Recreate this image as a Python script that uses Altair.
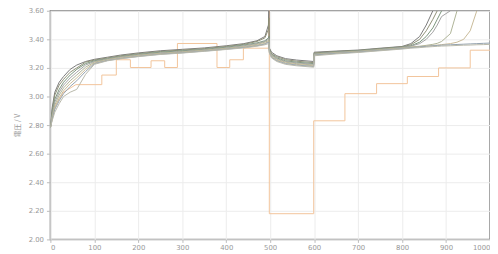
import altair as alt
import pandas as pd

X_GRID = [0, 4, 10, 20, 30, 45, 60, 80, 100, 130, 160, 200, 250, 300, 350, 400, 440, 470, 488, 496, 497,
          498, 503, 515, 535, 560, 599,
          600, 650, 700, 750, 800,
          820, 840, 855, 870, 880, 890, 910, 925, 940, 955, 970, 985, 1000]

N = None
S1 = [2.78, 2.92, 3.03, 3.10, 3.14, 3.19, 3.22, 3.245, 3.26, 3.275, 3.29, 3.305, 3.32, 3.33, 3.34, 3.355, 3.37, 3.39, 3.42, 3.50, 3.60,
      3.34, 3.31, 3.285, 3.265, 3.255, 3.245,
      3.31, 3.318, 3.325, 3.338, 3.35,
      3.37, 3.42, 3.50, 3.60, N, N, N, N, N, N, N, N, N]
S2 = [2.78, 2.90, 3.01, 3.08, 3.12, 3.17, 3.20, 3.24, 3.255, 3.27, 3.285, 3.30, 3.315, 3.325, 3.335, 3.35, 3.365, 3.385, 3.41, 3.47, 3.55,
      3.335, 3.30, 3.278, 3.258, 3.247, 3.237,
      3.305, 3.315, 3.322, 3.335, 3.348,
      3.362, 3.40, 3.46, 3.54, 3.60, N, N, N, N, N, N, N, N]
S3 = [2.78, 2.88, 2.98, 3.05, 3.10, 3.15, 3.19, 3.23, 3.25, 3.265, 3.28, 3.295, 3.31, 3.32, 3.33, 3.345, 3.36, 3.375, 3.39, 3.41, 3.42,
      3.33, 3.295, 3.27, 3.25, 3.24, 3.23,
      3.30, 3.312, 3.32, 3.332, 3.345,
      3.355, 3.38, 3.42, 3.48, 3.54, 3.60, N, N, N, N, N, N, N]
S4 = [2.78, 2.87, 2.96, 3.03, 3.08, 3.13, 3.17, 3.22, 3.245, 3.262, 3.277, 3.292, 3.305, 3.315, 3.327, 3.34, 3.355, 3.37, 3.385, 3.40, 3.41,
      3.325, 3.29, 3.265, 3.245, 3.235, 3.225,
      3.298, 3.31, 3.318, 3.33, 3.343,
      3.352, 3.37, 3.40, 3.45, 3.50, 3.56, 3.60, N, N, N, N, N, N]
S5 = [2.78, 2.86, 2.94, 3.01, 3.06, 3.11, 3.15, 3.205, 3.24, 3.26, 3.274, 3.289, 3.302, 3.312, 3.324, 3.337, 3.35, 3.365, 3.38, 3.39, 3.40,
      3.32, 3.285, 3.26, 3.24, 3.23, 3.22,
      3.295, 3.307, 3.316, 3.328, 3.34,
      3.347, 3.352, 3.358, 3.365, 3.372, 3.385, 3.44, 3.60, N, N, N, N, N]
S6 = [2.78, 2.85, 2.92, 2.99, 3.04, 3.09, 3.13, 3.19, 3.235, 3.255, 3.27, 3.285, 3.299, 3.309, 3.321, 3.334, 3.346, 3.36, 3.372, 3.385, 3.39,
      3.315, 3.28, 3.255, 3.235, 3.225, 3.215,
      3.292, 3.304, 3.313, 3.325, 3.337,
      3.344, 3.349, 3.353, 3.357, 3.36, 3.363, 3.37, 3.38, 3.40, 3.46, 3.60, N, N]
S7 = [2.78, 2.84, 2.91, 2.97, 3.02, 3.07, 3.11, 3.175, 3.23, 3.252, 3.266, 3.281, 3.296, 3.306, 3.318, 3.331, 3.343, 3.355, 3.367, 3.38, 3.38,
      3.31, 3.275, 3.25, 3.23, 3.22, 3.21,
      3.29, 3.302, 3.311, 3.323, 3.335,
      3.342, 3.347, 3.351, 3.355, 3.357, 3.359, 3.362, 3.364, 3.366, 3.368, 3.37, 3.372, 3.374]
S8 = [2.78, 2.83, 2.89, 2.95, 3.00, 3.03, 3.05, 3.155, 3.225, 3.25, 3.264, 3.279, 3.294, 3.304, 3.316, 3.329, 3.34, 3.352, 3.362, 3.37, 3.37,
      3.305, 3.27, 3.245, 3.225, 3.215, 3.205,
      3.285, 3.298, 3.308, 3.32, 3.332,
      3.338, 3.342, 3.346, 3.349, 3.351, 3.353, 3.355, 3.357, 3.359, 3.36, 3.362, 3.363, 3.365]

SERIES = {"s1": S1, "s2": S2, "s3": S3, "s4": S4, "s5": S5, "s6": S6, "s7": S7, "s8": S8}
COLORS = ["#7a7a7a", "#8e8f76", "#7a947c", "#a2a2a2", "#aeb396", "#c8ba98", "#93a2ae", "#b8b8aa"]

ORANGE_X = [0, 10, 30, 58, 117, 117, 150, 150, 182, 182, 229, 229, 260, 260, 289, 289, 379, 379, 408, 408, 439, 439, 496, 498, 498,
            599, 599, 670, 670, 742, 742, 812, 812, 883, 883, 955, 955, 1000]
ORANGE_Y = [2.78, 2.93, 3.03, 3.083, 3.083, 3.15, 3.15, 3.257, 3.257, 3.203, 3.203, 3.25, 3.25, 3.203, 3.203, 3.371, 3.371, 3.203, 3.203, 3.257, 3.257, 3.338, 3.338, 3.60, 2.18,
            2.18, 2.83, 2.83, 3.02, 3.02, 3.09, 3.09, 3.14, 3.14, 3.20, 3.20, 3.324, 3.324]

rows = []
for name, ys in SERIES.items():
    for i, (x, y) in enumerate(zip(X_GRID, ys)):
        if y is not None:
            rows.append({"series": name, "x": x, "y": y, "i": i})
df = pd.DataFrame(rows)
odf = pd.DataFrame({"x": ORANGE_X, "y": ORANGE_Y, "i": list(range(len(ORANGE_X)))})

xs = alt.Scale(domain=[0, 1000], nice=False)
ys_ = alt.Scale(domain=[2.0, 3.6], nice=False)

xax = alt.Axis(values=list(range(0, 1001, 100)), format="d", labelFontSize=7, labelColor="#999", tickColor="#bbb",
               tickSize=3, labelPadding=1, gridColor="#ececec", domain=False, title=None)
yax = alt.Axis(values=[2.0, 2.2, 2.4, 2.6, 2.8, 3.0, 3.2, 3.4, 3.6], format=".2f", labelFontSize=7,
               labelColor="#999", tickColor="#bbb", tickSize=4, labelPadding=3, gridColor="#ececec",
               domain=False, title="電圧 / V", titleFontSize=7, titleColor="#999", titleFontWeight="normal",
               titleFont="Noto Sans CJK JP", titlePadding=8)

orange = alt.Chart(odf).mark_line(color="#f2c49a", strokeWidth=1).encode(
    x=alt.X("x:Q", scale=xs, axis=xax),
    y=alt.Y("y:Q", scale=ys_, axis=yax),
    order="i:Q",
)
lines = alt.Chart(df).mark_line(strokeWidth=1, clip=True).encode(
    x=alt.X("x:Q", scale=xs, axis=xax),
    y=alt.Y("y:Q", scale=ys_, axis=yax),
    color=alt.Color("series:N", scale=alt.Scale(domain=list(SERIES.keys()), range=COLORS), legend=None),
    order="i:Q",
)

chart = alt.layer(orange, lines).properties(
    width=446, height=232,
    autosize=alt.AutoSizeParams(type="none"),
    padding={"left": 43, "top": 1, "right": 0, "bottom": 13},
).configure_view(stroke="#8a8a8a", strokeWidth=1.5).configure_axis(labelFont="DejaVu Sans")

chart.save("out.html", embed_options={"renderer": "svg", "actions": False})
